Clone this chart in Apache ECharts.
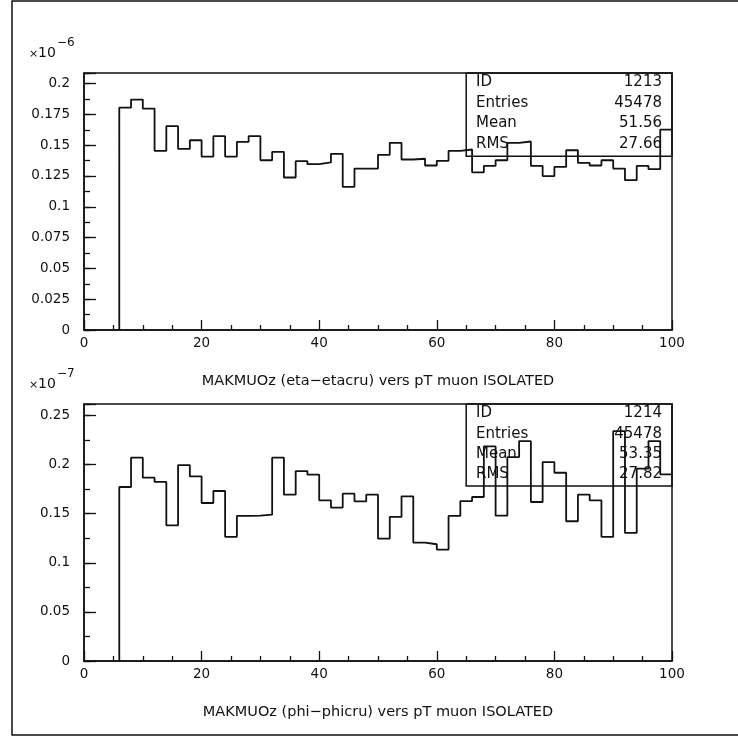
<!DOCTYPE html>
<html>
<head>
<meta charset="utf-8">
<script src="https://cdn.jsdelivr.net/npm/echarts@6/dist/echarts.min.js"></script>
<style>
html,body{margin:0;padding:0;background:#fff;}
#c{width:738px;height:737px;}
</style>
</head>
<body>
<div id="c"></div>
<script>
// ---- data ----
var binLow = [6,8,10,12,14,16,18,20,22,24,26,28,30,32,34,36,38,40,42,44,46,48,50,52,54,56,58,60,62,64,66,68,70,72,74,76,78,80,82,84,86,88,90,92,94,96,98];
var binWidth = 2;
var topValues = [0.1805,0.187,0.1797,0.1454,0.1654,0.147,0.154,0.1408,0.1573,0.1408,0.1527,0.1573,0.1378,0.1446,0.1238,0.137,0.1346,0.136,0.143,0.1162,0.131,0.131,0.1422,0.1519,0.1384,0.139,0.1335,0.1373,0.1454,0.1465,0.128,0.1332,0.1378,0.1519,0.153,0.1332,0.1249,0.1324,0.1459,0.1357,0.1335,0.1378,0.131,0.1216,0.1332,0.1305,0.1627];
var bottomValues = [0.1772,0.207,0.1867,0.1823,0.1382,0.1995,0.188,0.1609,0.1731,0.1264,0.1477,0.148,0.149,0.207,0.1694,0.1934,0.1897,0.1636,0.1562,0.1704,0.1626,0.1694,0.1247,0.1467,0.1677,0.1206,0.1189,0.1135,0.1477,0.1629,0.167,0.2185,0.148,0.2077,0.2239,0.1619,0.2026,0.1917,0.1423,0.1694,0.1636,0.1264,0.234,0.1304,0.1958,0.2239,0.19];
var topTitle = 'MAKMUOz (eta\u2212etacru) vers pT muon ISOLATED';
var bottomTitle = 'MAKMUOz (phi\u2212phicru) vers pT muon ISOLATED';
var topExp = '\u22126', bottomExp = '\u22127';
var statLabels = ['ID','Entries','Mean','RMS'];
var topStats = ['1213','45478','51.56','27.66'];
var bottomStats = ['1214','45478','53.35','27.82'];
var xMin = 0, xMax = 100, xInterval = 20;
var topYMax = 0.2086, topYInterval = 0.025;
var bottomYMax = 0.2617, bottomYInterval = 0.05;
var topBoxX = 65, topBoxY = 0.1411;
var bottomBoxX = 65, bottomBoxY = 0.1781;

// ---- build ----
var FONT = 'DejaVu Sans';
function histData(vals){
  var d = [[binLow[0], 0]];
  for (var i=0;i<binLow.length;i++) d.push([binLow[i], vals[i]]);
  d.push([binLow[binLow.length-1]+binWidth, vals[vals.length-1]]);
  return d;
}
function fmt(interval){
  return function(v){
    var r = v/interval;
    if (Math.abs(r-Math.round(r))>1e-6) return '';
    return String(+v.toFixed(4));
  };
}
var grids = [
  {left:84, top:73, width:588, height:257, show:true, borderColor:'#111', borderWidth:1.5, outerBoundsMode:'none'},
  {left:84, top:404, width:588, height:257, show:true, borderColor:'#111', borderWidth:1.5, outerBoundsMode:'none'}
];
function xAxisFor(gi, title){
  return {
    type:'value', gridIndex:gi, min:xMin, max:xMax, interval:xInterval,
    axisLine:{show:true, lineStyle:{color:'#111', width:1.5}},
    axisTick:{show:true, inside:true, length:10, lineStyle:{color:'#111', width:1.3}},
    minorTick:{show:true, splitNumber:4, length:5, lineStyle:{color:'#111', width:1.3}},
    splitLine:{show:false}, minorSplitLine:{show:false},
    axisLabel:{margin:6, color:'#111', fontFamily:FONT, fontSize:13.5},
    name:title, nameLocation:'middle', nameGap:44,
    nameTextStyle:{color:'#111', fontFamily:FONT, fontSize:14.5}
  };
}
function yAxesFor(gi, ymax, interval){
  return [{
    type:'value', gridIndex:gi, position:'left', min:0, max:ymax, interval:interval,
    axisLine:{show:true, lineStyle:{color:'#111', width:1.5}},
    axisTick:{show:true, inside:true, length:12, lineStyle:{color:'#111', width:1.3}},
    splitLine:{show:false},
    axisLabel:{margin:14, color:'#111', fontFamily:FONT, fontSize:13.5, formatter:fmt(interval), showMaxLabel:true}
  },{
    type:'value', gridIndex:gi, position:'left', min:0, max:ymax, interval:interval/2,
    axisLine:{show:false},
    axisTick:{show:true, inside:true, length:6, lineStyle:{color:'#111', width:1.3}},
    splitLine:{show:false},
    axisLabel:{show:false}
  }];
}
function histSeries(xi, yi, vals, boxX, boxY, ymax){
  return {
    type:'line', xAxisIndex:xi, yAxisIndex:yi, data:histData(vals), step:'end',
    symbol:'none', silent:true, animation:false,
    lineStyle:{color:'#111', width:1.8},
    markArea:{silent:true, itemStyle:{color:'rgba(0,0,0,0)', borderColor:'#111', borderWidth:1.5},
      data:[[{coord:[boxX, boxY]},{coord:[xMax, ymax]}]]}
  };
}
var graphics = [
  {type:'rect', shape:{x:12, y:1, width:740, height:734}, style:{fill:'none', stroke:'#111', lineWidth:1.5}, silent:true}
];
var topRows = [84,105,125,146];
var bottomRows = [415,436,456,476];
function statTexts(rowY, vals){
  for (var i=0;i<statLabels.length;i++){
    graphics.push({type:'text', left:476, top:rowY[i]-9, silent:true, z:10,
      style:{text:statLabels[i], fill:'#111', font:'15px "'+FONT+'"'}});
    graphics.push({type:'text', right:738-662, top:rowY[i]-9, silent:true, z:10,
      style:{text:vals[i], fill:'#111', font:'15px "'+FONT+'"'}});
  }
}
statTexts(topRows, topStats);
statTexts(bottomRows, bottomStats);
function expTexts(y, exp){
  graphics.push({type:'text', x:29, y:y+1, silent:true, style:{text:'\u00d7', fill:'#111', font:'11px "'+FONT+'"', textVerticalAlign:'middle'}});
  graphics.push({type:'text', x:38, y:y, silent:true, style:{text:'10', fill:'#111', font:'14px "'+FONT+'"', textVerticalAlign:'middle'}});
  graphics.push({type:'text', x:57, y:y-10, silent:true, style:{text:exp, fill:'#111', font:'12px "'+FONT+'"', textVerticalAlign:'middle'}});
}
expTexts(53, topExp);
expTexts(384, bottomExp);

var chart = echarts.init(document.getElementById('c'), null, {renderer:'canvas'});
var y0 = yAxesFor(0, topYMax, topYInterval);
var y1 = yAxesFor(1, bottomYMax, bottomYInterval);
chart.setOption({
  animation:false,
  backgroundColor:'#fff',
  grid:grids,
  xAxis:[xAxisFor(0, topTitle), xAxisFor(1, bottomTitle)],
  yAxis:[y0[0], y0[1], y1[0], y1[1]],
  series:[
    histSeries(0, 0, topValues, topBoxX, topBoxY, topYMax),
    histSeries(1, 2, bottomValues, bottomBoxX, bottomBoxY, bottomYMax)
  ],
  graphic:graphics
});
</script>
</body>
</html>
